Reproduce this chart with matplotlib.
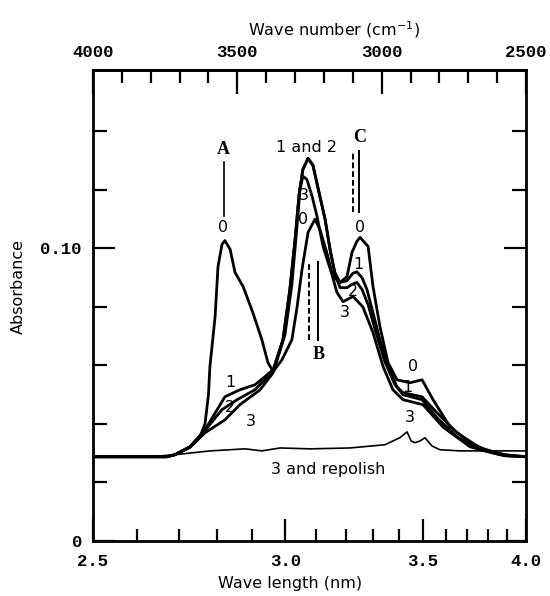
import numpy as np
import matplotlib
matplotlib.use('Agg')
import matplotlib.pyplot as plt

# all curves: wave number (cm-1) vs absorbance
wn_0 = [4000, 3744, 3716, 3664, 3630, 3612, 3600, 3595, 3577, 3567, 3553, 3543, 3525, 3508, 3480, 3446,
	3415, 3394, 3376, 3345, 3311, 3293, 3276, 3255, 3231, 3214, 3190, 3169, 3144, 3120, 3103, 3086,
	3075, 3047, 3030, 3006, 2978, 2947, 2902, 2860, 2822, 2763, 2694, 2625, 2556, 2500]
abs_0 = [0.0288, 0.0288, 0.0295, 0.0322, 0.0355, 0.040, 0.050, 0.0596, 0.0767, 0.0938, 0.1014, 0.1027,
	0.0997, 0.0918, 0.087, 0.078, 0.0688, 0.061, 0.0579, 0.062, 0.0688, 0.080, 0.0928, 0.1055, 0.110,
	0.1065, 0.0986, 0.0904, 0.0884, 0.0904, 0.0986, 0.1024, 0.1038, 0.1007, 0.087, 0.0733, 0.061,
	0.0551, 0.0541, 0.0551, 0.0483, 0.039, 0.0336, 0.0305, 0.0291, 0.0288]

wn_1 = [4000, 3744, 3716, 3664, 3612, 3543, 3491, 3439, 3404, 3376, 3342, 3318, 3300, 3286, 3273, 3255,
	3238, 3214, 3196, 3179, 3162, 3144, 3120, 3100, 3086, 3068, 3051, 3030, 3006, 2978, 2947, 2926,
	2860, 2808, 2739, 2659, 2573, 2500]
abs_1 = [0.0288, 0.0288, 0.0295, 0.0322, 0.038, 0.0493, 0.0517, 0.0534, 0.0562, 0.0586, 0.0688, 0.086,
	0.103, 0.1185, 0.127, 0.1308, 0.1284, 0.1178, 0.110, 0.0997, 0.0918, 0.0884, 0.0890, 0.0915, 0.092,
	0.090, 0.086, 0.078, 0.0688, 0.0596, 0.0527, 0.0507, 0.0493, 0.0438, 0.037, 0.0318, 0.0295, 0.0288]

wn_2 = [4000, 3744, 3716, 3664, 3612, 3553, 3501, 3439, 3376, 3342, 3318, 3300, 3286, 3273, 3255, 3238,
	3214, 3196, 3179, 3162, 3144, 3120, 3103, 3086, 3068, 3047, 3023, 2989, 2954, 2926, 2860, 2808,
	2739, 2659, 2573, 2500]
abs_2 = [0.0288, 0.0288, 0.0295, 0.0322, 0.0378, 0.0449, 0.0483, 0.0517, 0.058, 0.0688, 0.086, 0.103,
	0.1185, 0.127, 0.1308, 0.1284, 0.1178, 0.110, 0.0997, 0.0912, 0.0866, 0.0866, 0.0877, 0.0884, 0.086,
	0.0808, 0.0723, 0.0613, 0.0534, 0.050, 0.0483, 0.0421, 0.0356, 0.0312, 0.0291, 0.0288]

wn_3 = [4000, 3744, 3716, 3664, 3612, 3543, 3491, 3421, 3376, 3335, 3311, 3293, 3283, 3273, 3259, 3241,
	3224, 3203, 3172, 3155, 3134, 3099, 3065, 3030, 2995, 2961, 2926, 2857, 2788, 2694, 2590, 2500]
abs_3 = [0.0288, 0.0288, 0.0295, 0.032, 0.037, 0.0414, 0.0466, 0.0517, 0.0575, 0.0705, 0.0877, 0.108,
	0.120, 0.1247, 0.1236, 0.1178, 0.111, 0.1007, 0.091, 0.085, 0.0818, 0.0836, 0.080, 0.0712, 0.0596,
	0.0517, 0.0483, 0.0466, 0.039, 0.0322, 0.0295, 0.0288]

# "3 and repolish" trace
wn_rep = [4000, 3803, 3716, 3595, 3473, 3415, 3352, 3248, 3110, 2989, 2937, 2912, 2898, 2885, 2867, 2850,
	2826, 2798, 2729, 2500]
abs_rep = [0.0288, 0.0288, 0.0295, 0.0308, 0.0315, 0.0308, 0.0318, 0.0315, 0.0318, 0.0329, 0.0353, 0.0373,
	0.0342, 0.0336, 0.0342, 0.0353, 0.0325, 0.0312, 0.0308, 0.0308]

# axis ticks
wl_major = [2.5, 3.0, 3.5, 4.0]
wl_minor = [2.6, 2.7, 2.8, 2.9, 3.1, 3.2, 3.3, 3.4, 3.6, 3.7, 3.8, 3.9]
wn_major = [4000, 3500, 3000, 2500]
wn_minor = [3900, 3800, 3700, 3600, 3400, 3300, 3200, 3100, 2900, 2800, 2700, 2600]
abs_major = [0.0, 0.10]
abs_minor = [0.02, 0.04, 0.06, 0.08, 0.12, 0.14]

TICKFONT = dict(family='Liberation Mono', weight='bold', size=12.5)
LBLFONT = dict(family='DejaVu Sans', size=11.5)
PEAKFONT = dict(family='Liberation Serif', weight='bold', size=13)


def set_tick_font(labels):
	for lbl in labels:
		lbl.set_family(TICKFONT['family'])
		lbl.set_weight(TICKFONT['weight'])
		lbl.set_size(TICKFONT['size'])


def main():
	fig = plt.figure(figsize=(5.5, 5.96), dpi=100)
	ax = fig.add_axes([93/550, 55/596, 433/550, 471/596])

	for wn, ab in [(wn_0, abs_0), (wn_1, abs_1), (wn_2, abs_2), (wn_3, abs_3)]:
		ax.plot(wn, ab, c='black', lw=2.0, solid_joinstyle='round', solid_capstyle='round')
	ax.plot(wn_rep, abs_rep, c='black', lw=1.2, solid_joinstyle='round')

	ax.set_xlim(4000, 2500)
	ax.set_ylim(0, 0.161)

	# bottom axis is wave length, placed on the (linear) wave number scale
	ax.set_xticks([1e4/w for w in wl_major])
	ax.set_xticklabels(['%.1f' % w for w in wl_major])
	ax.set_xticks([1e4/w for w in wl_minor], minor=True)
	ax.set_yticks(abs_major)
	ax.set_yticklabels(['0', '0.10'])
	ax.set_yticks(abs_minor, minor=True)

	ax.tick_params(which='both', direction='in', width=1.6, colors='black')
	ax.tick_params(axis='x', which='major', length=16, pad=9)
	ax.tick_params(axis='x', which='minor', length=9)
	ax.tick_params(axis='y', which='major', length=16, pad=8, right=True)
	ax.tick_params(axis='y', which='minor', length=10, right=True)
	set_tick_font(ax.get_xticklabels() + ax.get_yticklabels())

	top = ax.secondary_xaxis('top')
	top.set_xticks(wn_major)
	top.set_xticklabels([str(w) for w in wn_major])
	top.set_xticks(wn_minor, minor=True)
	top.tick_params(which='both', direction='in', width=1.6)
	top.tick_params(which='major', length=17, pad=7)
	top.tick_params(which='minor', length=9)
	set_tick_font(top.get_xticklabels())
	top.spines['top'].set_linewidth(2.0)

	for sp in ax.spines.values():
		sp.set_linewidth(2.0)

	fig.text(334/550, 1 - 30/596, 'Wave number (cm$^{-1}$)', ha='center', va='center', **LBLFONT)
	ax.set_xlabel('Wave length (nm)', **LBLFONT)
	ax.xaxis.set_label_coords(0.456, -0.075)
	ax.set_ylabel('Absorbance', **LBLFONT)
	ax.yaxis.set_label_coords(-0.155, 0.54)

	# peak markers A, B, C (dashed = shifted position)
	ax.plot([3546, 3546], [0.111, 0.1295], c='black', lw=1.2)
	ax.plot([3252, 3252], [0.0688, 0.0952], c='black', lw=1.4, ls=(0, (3, 1.5)))
	ax.plot([3221, 3221], [0.0688, 0.0952], c='black', lw=1.4)
	ax.plot([3099, 3099], [0.1123, 0.1332], c='black', lw=1.4, ls=(0, (3, 1.5)))
	ax.plot([3079, 3079], [0.1123, 0.1332], c='black', lw=1.4)

	ax.text(3550, 0.1339, 'A', ha='center', va='center', **PEAKFONT)
	ax.text(3217, 0.0637, 'B', ha='center', va='center', **PEAKFONT)
	ax.text(3075, 0.138, 'C', ha='center', va='center', **PEAKFONT)

	notes = [('0', 3550, 0.1072), ('1 and 2', 3259, 0.1346), ('3', 3269, 0.1182), ('0', 3273, 0.1099),
		('0', 3075, 0.1072), ('1', 3082, 0.0945), ('2', 3099, 0.0853), ('3', 3127, 0.0781),
		('0', 2891, 0.0596), ('1', 2912, 0.0524), ('3', 2902, 0.0421),
		('1', 3525, 0.0541), ('2', 3525, 0.0455), ('3', 3453, 0.0408),
		('3 and repolish', 3186, 0.0243)]
	for txt, x, y in notes:
		ax.text(x, y, txt, ha='center', va='center', **LBLFONT)

	fig.savefig('out.png', dpi=100)


main()
